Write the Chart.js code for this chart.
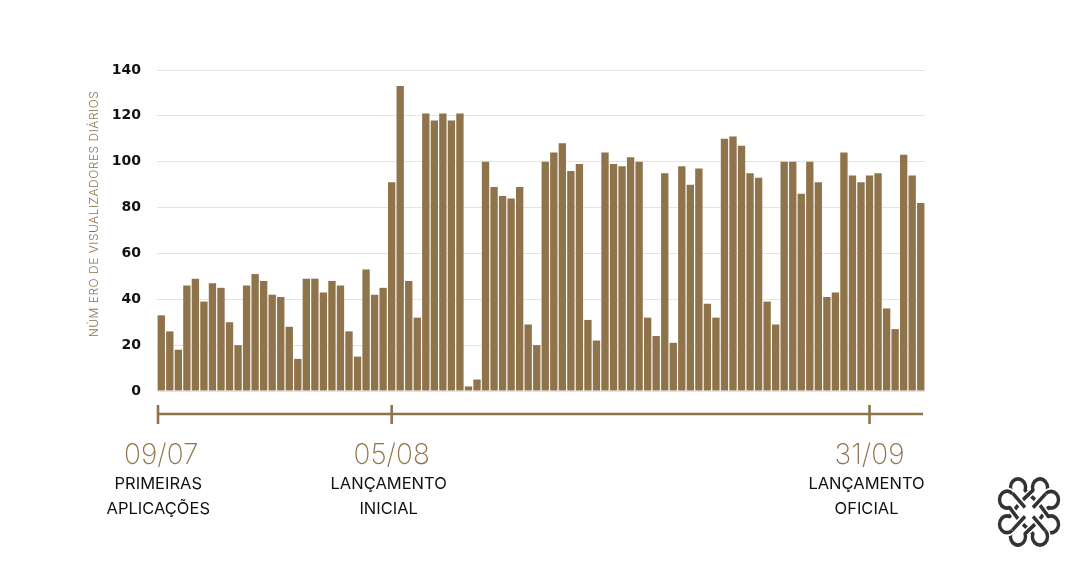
<!DOCTYPE html>
<html>
<head>
<meta charset="utf-8">
<script src="https://cdn.jsdelivr.net/npm/chart.js@4/dist/chart.umd.min.js"></script>
<style>
  html, body { margin: 0; padding: 0; background: #fff; }
  #wrap { width: 1080px; height: 566px; }
</style>
</head>
<body>
<div id="wrap"><canvas id="my-chart" width="1080" height="566"></canvas></div>
<script>
// daily viewers, one bar per day starting 09/07
const days = [
  '09/07','10/07','11/07','12/07','13/07','14/07','15/07','16/07','17/07','18/07',
  '19/07','20/07','21/07','22/07','23/07','24/07','25/07','26/07','27/07','28/07',
  '29/07','30/07','31/07','01/08','02/08','03/08','04/08','05/08','06/08','07/08',
  '08/08','09/08','10/08','11/08','12/08','13/08','14/08','15/08','16/08','17/08',
  '18/08','19/08','20/08','21/08','22/08','23/08','24/08','25/08','26/08','27/08',
  '28/08','29/08','30/08','31/08','01/09','02/09','03/09','04/09','05/09','06/09',
  '07/09','08/09','09/09','10/09','11/09','12/09','13/09','14/09','15/09','16/09',
  '17/09','18/09','19/09','20/09','21/09','22/09','23/09','24/09','25/09','26/09',
  '27/09','28/09','29/09','30/09','01/10','02/10','03/10','04/10','05/10','06/10'
]
const viewers = [
  33,26,18,46,49,39,47,45,30,20,46,51,48,42,41,28,14,49,49,43,48,46,26,15,53,42,45,91,133,
  48,32,121,118,121,118,121,2,5,100,89,85,84,89,29,20,100,104,108,96,99,31,22,104,99,98,102,100,32,24,
  95,21,98,90,97,38,32,110,111,107,95,93,39,29,100,100,86,100,91,41,43,104,94,91,94,95,36,27,103,94,82
]
const yTicks = [0, 20, 40, 60, 80, 100, 120, 140]
const yTitle = 'NÚM ERO DE VISUALIZADORES DIÁRIOS'

// timeline markers under the bars
const markerIndex = [0, 27, 83]
const markerDates = ['09/07', '05/08', '31/09']
const markerText = [
  ['PRIMEIRAS', 'APLICAÇÕES'],
  ['LANÇAMENTO', 'INICIAL'],
  ['LANÇAMENTO', 'OFICIAL']
]

const brown = '#8e734b'

//one stroke of the logo, white underneath so crossings look woven
function weave(ctx, build) {
  ctx.beginPath()
  build()
  ctx.strokeStyle = '#fff'
  ctx.lineWidth = 6.5
  ctx.stroke()
  ctx.strokeStyle = '#333'
  ctx.lineWidth = 3.4
  ctx.stroke()
}

//draws the y title, the timeline and the little logo
const extras = {
  id: 'extras',
  afterDraw(chart) {
    const ctx = chart.ctx
    const area = chart.chartArea
    const x = chart.scales.x
    ctx.save()

    // rotated axis title
    ctx.fillStyle = brown
    ctx.font = '300 12px Inter'
    ctx.letterSpacing = '0.5px'
    ctx.textAlign = 'center'
    ctx.textBaseline = 'middle'
    ctx.translate(94, 214)
    ctx.rotate(-Math.PI / 2)
    ctx.fillText(yTitle, 0, 0)
    ctx.setTransform(1, 0, 0, 1, 0, 0)
    ctx.letterSpacing = '0px'

    // timeline
    const lineY = 414
    ctx.strokeStyle = brown
    ctx.lineWidth = 2.6
    ctx.beginPath()
    ctx.moveTo(area.left, lineY)
    ctx.lineTo(area.right - 2, lineY)
    ctx.stroke()

    markerIndex.forEach((idx, i) => {
      let px = x.getPixelForValue(idx)
      if (idx === 0) px = area.left + 1
      ctx.strokeStyle = brown
      ctx.lineWidth = 2.6
      ctx.beginPath()
      ctx.moveTo(px, lineY - 9)
      ctx.lineTo(px, lineY + 10)
      ctx.stroke()

      let cx = x.getPixelForValue(idx)
      ctx.fillStyle = brown
      ctx.font = '200 28px Inter'
      ctx.textAlign = 'center'
      ctx.textBaseline = 'middle'
      ctx.fillText(markerDates[i], cx, 456)

      ctx.fillStyle = '#111'
      ctx.font = '400 16.5px Inter'
      markerText[i].forEach((t, j) => {
        ctx.fillText(t, cx - 3, 484 + j * 25)
      })
    })

    // logo: four interlaced hearts
    ctx.lineCap = 'butt'
    ctx.lineJoin = 'round'
    const d = Math.PI / 180
    for (let k = 0; k < 4; k++) {
      ctx.setTransform(1, 0, 0, 1, 0, 0)
      ctx.translate(1029, 512)
      ctx.scale(1.0, 1.12)
      ctx.rotate(k * Math.PI / 2)
      weave(ctx, () => {
        ctx.moveTo(-4, -4)
        ctx.lineTo(-16.3, -16.7)
      })
      weave(ctx, () => {
        ctx.arc(-11, -22, 7.5, 135 * d, 20 * d + 2 * Math.PI)
        ctx.lineTo(6, -11)
      })
      weave(ctx, () => {
        ctx.moveTo(-6, -11)
        ctx.arc(11, -22, 7.5, 160 * d, 45 * d + 2 * Math.PI)
      })
    }
    ctx.restore()
  }
}

let ctx = document.getElementById('my-chart').getContext('2d')
let chart = new Chart(ctx, {
  type: 'bar',
  data: {
    labels: days,
    datasets: [{
      data: viewers,
      backgroundColor: brown,
      borderWidth: 0,
      barPercentage: 0.86,
      categoryPercentage: 1.0
    }]
  },
  options: {
    responsive: false,
    animation: false,
    devicePixelRatio: 1,
    layout: { padding: { left: 0, top: 70, right: 155, bottom: 175 } },
    plugins: { legend: { display: false }, tooltip: { enabled: false } },
    scales: {
      x: { display: false },
      y: {
        min: 0,
        max: 140,
        afterFit(scale) { scale.width = 157 },
        afterBuildTicks(scale) { scale.ticks = yTicks.map(v => ({ value: v })) },
        border: { display: false },
        grid: { color: '#e4e4e4', lineWidth: 1, drawTicks: false },
        ticks: {
          padding: 16,
          color: '#111',
          font: { family: 'DejaVu Sans', size: 14, weight: 'bold' }
        }
      }
    }
  },
  plugins: [extras]
})
</script>
</body>
</html>
